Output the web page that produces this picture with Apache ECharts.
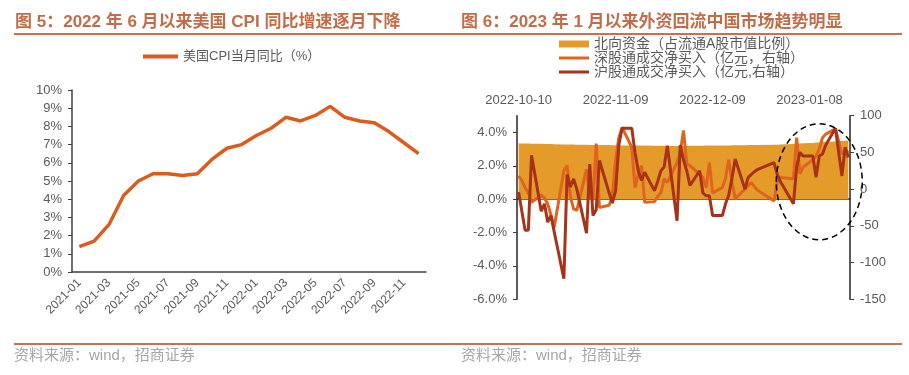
<!DOCTYPE html>
<html>
<head>
<meta charset="utf-8">
<script src="https://cdn.jsdelivr.net/npm/echarts@6/dist/echarts.min.js"></script>
<style>
  html, body { margin: 0; padding: 0; background: #fff; }
  #main { width: 909px; height: 375px; }
</style>
</head>
<body>
<div id="main"></div>
<script>
// fig 5: US CPI yoy
const cpiMonths = [
  '2021-01', '2021-02', '2021-03', '2021-04', '2021-05', '2021-06',
  '2021-07', '2021-08', '2021-09', '2021-10', '2021-11', '2021-12',
  '2022-01', '2022-02', '2022-03', '2022-04', '2022-05', '2022-06',
  '2022-07', '2022-08', '2022-09', '2022-10', '2022-11', '2022-12'
]
const cpiValues = [
  1.4, 1.7, 2.6, 4.2, 5.0, 5.4, 5.4, 5.3, 5.4, 6.2, 6.8, 7.0,
  7.5, 7.9, 8.5, 8.3, 8.6, 9.1, 8.5, 8.3, 8.2, 7.7, 7.1, 6.5
]

// fig 6: northbound flows, one value per trading day
const dayStart = '2022-10-10'
const dayEnd = '2023-01-20'
const holidays = ['2022-12-26', '2022-12-27', '2023-01-02']
const northShare = [
  3.35, 3.34, 3.33, 3.33, 3.32,
  3.32, 3.31, 3.30, 3.30, 3.29,
  3.28, 3.28, 3.27, 3.27, 3.26,
  3.26, 3.25, 3.25, 3.24, 3.24,
  3.24, 3.23, 3.23, 3.23, 3.22,
  3.22, 3.22, 3.21, 3.21, 3.21,
  3.20, 3.20, 3.20, 3.20, 3.19,
  3.19, 3.19, 3.19, 3.20, 3.20,
  3.20, 3.20, 3.21, 3.21, 3.21,
  3.22, 3.22, 3.22, 3.23, 3.23,
  3.23, 3.24, 3.24, 3.25, 3.25,
  3.26, 3.26, 3.27,
  3.30, 3.32, 3.34, 3.35,
  3.37, 3.39, 3.40, 3.42, 3.44,
  3.46, 3.48, 3.49, 3.50, 3.52
]
const szNet = [
  18, 12, 2, -5, -18,
  -8, -12, -20, -35, -52,
  25, 32, -10, -27, -29,
  27, -10, -15, 62, -25,
  -22, -10, 40, 70, 84,
  57, 2, 20, 32, -18,
  -17, -10, -5, 14, 9,
  36, 50, 80, 35, 32,
  20, 16, 2, 36, -5,
  2, 15, 40, 10, -13,
  0, 5, 9, 3, -2,
  -16, 10, 16,
  14, 70, 21, 30,
  40, 45, 55, 70, 75,
  82, 65, 48, 52, 50
]
const shNet = [
  -4, -30, -56, -56, 46,
  -30, -20, -45, -36, -58,
  -122, 20, 3, 14, 0,
  -60, 34, -36, -28, 39,
  -5, -19, -2, 60, 83,
  83, 50, 25, 12, 23,
  -2, 10, 25, 30, 59,
  -43, 60, 40, 25, 5,
  25, -5, -9, -9, -36,
  -36, -20, -8, 15, 41,
  0, 16, 20, 24, 27,
  36, 20, 10,
  -20, 30, 50, 45,
  45, 16, 45, 48, 60,
  83, 50, 18, 57, 43
]

function dayList (from, to) {
  const out = []
  let t = Date.parse(from + 'T00:00:00Z')
  const end = Date.parse(to + 'T00:00:00Z')
  while (t <= end) {
    out.push(new Date(t).toISOString().slice(0, 10))
    t += 86400000
  }
  return out
}
const calendarDays = dayList(dayStart, dayEnd)
const tradeDays = calendarDays.filter(d => {
  const w = new Date(d + 'T00:00:00Z').getUTCDay()
  return w !== 0 && w !== 6 && holidays.indexOf(d) < 0
})
const pairs = vals => tradeDays.map((d, i) => [d, vals[i]])

const FONT = "'Liberation Sans', 'Noto Sans CJK SC', sans-serif"
const GREY = '#595959'
const AXIS = '#404040'
const RUST = '#c8714f'
const BAR = 'path://M0,0H30V3H0Z'

const titleStyle = { fontSize: 17, fontWeight: 'bold', color: '#c26d4a', fontFamily: FONT }
const footStyle = { fontSize: 15, fontWeight: 'normal', color: '#a6a6a6', fontFamily: FONT }

const chart = echarts.init(document.getElementById('main'))
const option = {
  animation: false,
  backgroundColor: '#fff',
  textStyle: { fontFamily: FONT },
  title: [
    { text: '图 5：2022 年 6 月以来美国 CPI 同比增速逐月下降', left: 15, top: 14, padding: 0, textStyle: titleStyle },
    { text: '图 6：2023 年 1 月以来外资回流中国市场趋势明显', left: 461, top: 14, padding: 0, textStyle: titleStyle },
    { text: '资料来源：wind，招商证券', left: 14, top: 348, padding: 0, textStyle: footStyle },
    { text: '资料来源：wind，招商证券', left: 461, top: 348, padding: 0, textStyle: footStyle }
  ],
  graphic: [
    { type: 'line', shape: { x1: 14, y1: 34, x2: 902, y2: 34 }, style: { stroke: RUST, lineWidth: 2 } },
    { type: 'line', shape: { x1: 14, y1: 344, x2: 902, y2: 344 }, style: { stroke: RUST, lineWidth: 2 } }
  ],
  legend: [
    {
      left: 143, top: 50, padding: 0,
      itemWidth: 35, itemHeight: 10, itemGap: 0, itemTextGap: 4,
      textStyle: { fontSize: 13, color: GREY },
      data: [{ name: '美国CPI当月同比（%）', icon: 'path://M0,0H35V4H0Z' }]
    },
    {
      orient: 'vertical', left: 559, top: 37, padding: 0,
      itemWidth: 30, itemHeight: 7, itemGap: 0, itemTextGap: 7,
      textStyle: { fontSize: 14, color: GREY },
      data: [
        { name: '北向资金（占流通A股市值比例）', icon: 'rect' },
        { name: '深股通成交净买入（亿元，右轴）', icon: BAR },
        { name: '沪股通成交净买入（亿元,右轴）', icon: BAR }
      ]
    }
  ],
  grid: [
    { left: 72, top: 90, width: 354, height: 182 },
    { left: 517, top: 115.7, width: 333, height: 183.6 }
  ],
  xAxis: [
    {
      type: 'category', gridIndex: 0, data: cpiMonths, boundaryGap: true,
      axisLine: { lineStyle: { color: AXIS, width: 1.5 } },
      axisTick: { interval: 1, length: 4, lineStyle: { color: AXIS } },
      axisLabel: { interval: 1, rotate: 45, margin: 9, fontSize: 12, color: GREY }
    },
    {
      type: 'category', gridIndex: 1, data: calendarDays, position: 'top', boundaryGap: true,
      axisLine: { show: false, onZero: false },
      axisTick: { show: false },
      axisLabel: { interval: 29, margin: 9, fontSize: 13, color: GREY }
    },
    {
      type: 'category', gridIndex: 1, data: calendarDays, position: 'bottom', boundaryGap: true,
      axisLine: { onZero: true, onZeroAxisIndex: 1, lineStyle: { color: '#262626', width: 1.5 } },
      axisTick: { interval: 29, length: 4, lineStyle: { color: AXIS } },
      axisLabel: { show: false }
    }
  ],
  yAxis: [
    {
      type: 'value', gridIndex: 0, min: 0, max: 10, interval: 1,
      splitLine: { show: false },
      axisLine: { show: true, lineStyle: { color: AXIS, width: 1.5 } },
      axisTick: { show: true, length: 4, lineStyle: { color: AXIS } },
      axisLabel: { formatter: '{value}%', fontSize: 13, color: GREY, margin: 10 }
    },
    {
      type: 'value', gridIndex: 1, min: -6, max: 5, interval: 2,
      splitLine: { show: false },
      axisLine: { show: true, onZero: false, lineStyle: { color: '#262626', width: 1.5 } },
      axisTick: { show: true, length: 4, customValues: [-6, -4, -2, 0, 2, 4], lineStyle: { color: AXIS } },
      axisLabel: {
        customValues: [-6, -4, -2, 0, 2, 4],
        formatter: v => v.toFixed(1) + '%', fontSize: 13, color: GREY, margin: 10
      }
    },
    {
      type: 'value', gridIndex: 1, position: 'right', min: -150, max: 100, interval: 50,
      splitLine: { show: false },
      axisLine: { show: true, onZero: false, lineStyle: { color: '#262626', width: 1.5 } },
      axisTick: { show: true, length: 4, lineStyle: { color: AXIS } },
      axisLabel: { fontSize: 13, color: GREY, margin: 10 }
    }
  ],
  series: [
    {
      name: '美国CPI当月同比（%）', type: 'line', xAxisIndex: 0, yAxisIndex: 0,
      data: cpiValues, symbol: 'none',
      itemStyle: { color: '#dc5b1d' },
      lineStyle: { color: '#dc5b1d', width: 3.5 }
    },
    {
      name: '北向资金（占流通A股市值比例）', type: 'line', xAxisIndex: 1, yAxisIndex: 1,
      data: pairs(northShare), symbol: 'none',
      itemStyle: { color: '#e49b2a' },
      lineStyle: { width: 0 },
      areaStyle: { color: '#e49b2a', opacity: 1, origin: 0 }
    },
    {
      name: '深股通成交净买入（亿元，右轴）', type: 'line', xAxisIndex: 1, yAxisIndex: 2,
      data: pairs(szNet), symbol: 'none',
      itemStyle: { color: '#e0641e' },
      lineStyle: { color: '#e0641e', width: 3 }
    },
    {
      name: '沪股通成交净买入（亿元,右轴）', type: 'line', xAxisIndex: 1, yAxisIndex: 2,
      data: pairs(shNet), symbol: 'none',
      itemStyle: { color: '#a83218' },
      lineStyle: { color: '#a83218', width: 3 }
    }
  ]
}
chart.setOption(option)

// dashed ring around the January inflow
const c = chart.convertToPixel({ xAxisIndex: 1, yAxisIndex: 2 }, ['2023-01-11', 10])
chart.setOption({
  graphic: [
    {},
    {},
    {
      type: 'ellipse', z: 100,
      shape: { cx: c[0], cy: c[1], rx: 43, ry: 58 },
      style: { fill: 'none', stroke: '#000', lineWidth: 1.5, lineDash: [6, 4] }
    }
  ]
})
</script>
</body>
</html>
